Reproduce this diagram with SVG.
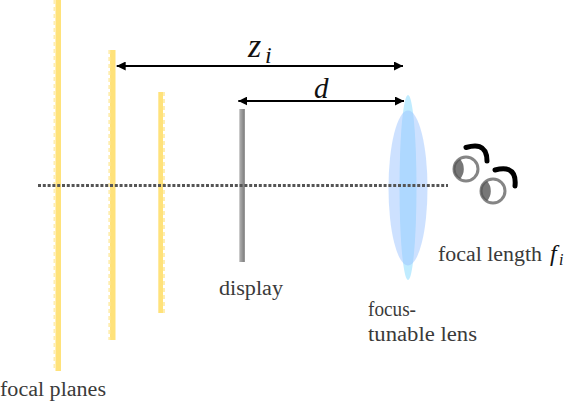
<svg xmlns="http://www.w3.org/2000/svg" width="581" height="401" viewBox="0 0 581 401">
<style>
.core{fill:#ffe27a}
.edge{stroke:#ffeeb0;stroke-width:2;stroke-dasharray:4 3;fill:none}
.lbl{font-family:"Liberation Serif","DejaVu Serif",serif;font-size:20px;fill:#3a3a3a}
.math{font-family:"Liberation Serif",serif;font-style:italic;fill:#111}
.dim{stroke:#000;stroke-width:2;fill:none;marker-start:url(#a);marker-end:url(#a)}
.eye{fill:#fff;stroke:#858585;stroke-width:3}
.pupil{fill:#555;opacity:.8}
.brow{fill:none;stroke:#000;stroke-width:5;stroke-linecap:round}
</style>
<defs>
<marker id="a" viewBox="0 0 10 10" refX="10" refY="5" markerWidth="9" markerHeight="9" markerUnits="userSpaceOnUse" orient="auto-start-reverse"><path d="M0 0L10 5L0 10Z" fill="#000"/></marker>
<linearGradient id="g" x1="0" x2="1" y1="0" y2="0"><stop offset="0" stop-color="#b4b4b4"/><stop offset="1" stop-color="#7a7a7a"/></linearGradient>
</defs>
<g id="plane1"><rect class="core" x="55.500" y="0" width="5.500" height="371"/><line class="edge" x1="54.500" y1="0" x2="54.500" y2="371"/></g>
<g id="plane2"><rect class="core" x="110" y="50" width="5.500" height="290"/><line class="edge" x1="109.300" y1="50" x2="109.300" y2="340"/></g>
<g id="plane3"><rect class="core" x="158.300" y="92" width="4.700" height="221"/><line class="edge" x1="164" y1="92" x2="164" y2="313"/></g>
<g id="display"><rect x="239.300" y="109" width="5.500" height="153" fill="url(#g)"/></g>
<g id="lens">
<ellipse cx="408" cy="187.500" rx="8.500" ry="92.500" fill="#c0ecff"/>
<ellipse cx="408" cy="188" rx="19.500" ry="77.500" fill="#9cc4ff" opacity=".5"/>
</g>
<g id="connectors">
<line x1="38" y1="185.500" x2="448" y2="185.500" stroke="#555" stroke-width="3" stroke-dasharray="3 1.800"/>
<line class="dim" x1="116.700" y1="66" x2="403" y2="66"/>
<line class="dim" x1="238.300" y1="101" x2="404" y2="101"/>
</g>
<g id="eye1"><circle class="eye" cx="466" cy="169" r="12"/><path class="pupil" d="M460 159A11 11 0 0 0 460 179A15 15 0 0 0 460 159Z"/><path class="brow" d="M466 147.500C474 145 487 143 487 161"/></g>
<g id="eye2"><circle class="eye" cx="493" cy="191" r="12"/><path class="pupil" d="M487 181A11 11 0 0 0 487 201A15 15 0 0 0 487 181Z"/><path class="brow" d="M495 170C503 168 517 166 515 186"/></g>
<g id="labels">
<text class="math" x="248" y="57" font-size="34">z</text><text class="math" x="265" y="63" font-size="24">i</text>
<text class="math" x="314" y="98" font-size="29">d</text>
<text class="lbl" x="219" y="295" textLength="64" lengthAdjust="spacingAndGlyphs">display</text>
<text class="lbl" x="0" y="396" textLength="106" lengthAdjust="spacingAndGlyphs">focal planes</text>
<text class="lbl" x="368" y="316" textLength="48" lengthAdjust="spacingAndGlyphs">focus-</text>
<text class="lbl" x="368" y="341" textLength="109" lengthAdjust="spacingAndGlyphs">tunable lens</text>
<text class="lbl" x="438" y="261" textLength="104" lengthAdjust="spacingAndGlyphs">focal length</text>
<text class="math" x="550" y="261" font-size="24">f</text><text class="math" x="559" y="265" font-size="16">i</text>
</g>
</svg>
